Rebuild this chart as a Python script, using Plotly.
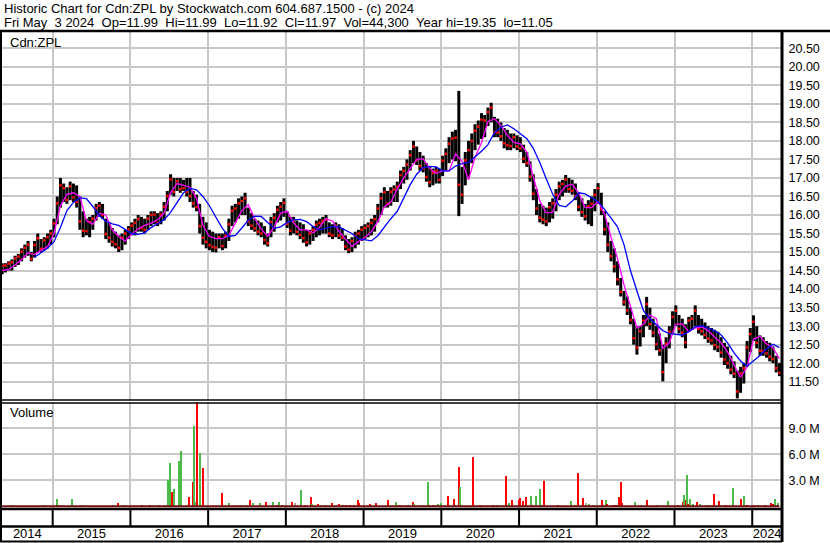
import numpy as np
import plotly.graph_objects as go

# semi-monthly price range (high / low), May 2014 .. May 2024
bar_high = [14.7, 14.7, 14.75, 14.8, 14.9, 14.95, 15.1, 15.2, 15.3, 15.0,
            15.3, 15.5, 15.35, 15.4, 15.5, 15.6, 15.9, 16.5, 17.0, 16.85,
            16.75, 16.9, 16.85, 16.8, 16.5, 16.1, 15.9, 15.95, 16.0, 16.3,
            16.35, 16.3, 15.9, 15.8, 15.65, 15.55, 15.45, 15.5, 15.6, 15.7,
            15.8, 15.9, 16.0, 15.95, 15.9, 16.0, 16.1, 16.1, 16.05, 16.1,
            16.35, 16.65, 17.1, 17.0, 17.0, 17.0, 16.95, 17.0, 17.0, 16.65,
            16.55, 16.3, 15.95, 15.8, 15.6, 15.55, 15.5, 15.5, 15.5, 15.55,
            15.9, 16.25, 16.3, 16.45, 16.5, 16.6, 16.2, 16.05, 15.9, 15.85,
            15.8, 15.7, 15.5, 15.95, 16.05, 16.25, 16.35, 16.45, 16.1, 15.95,
            15.95, 15.85, 15.8, 15.75, 15.6, 15.6, 15.7, 15.85, 15.9, 15.95,
            16.0, 15.8, 15.75, 15.8, 15.75, 15.65, 15.45, 15.35, 15.4, 15.55,
            15.6, 15.7, 15.75, 15.8, 15.9, 16.0, 16.3, 16.6, 16.75, 16.65,
            16.75, 16.8, 16.9, 17.2, 17.3, 17.5, 17.75, 18.0, 17.85, 17.7,
            17.6, 17.4, 17.3, 17.25, 17.3, 17.25, 17.6, 17.8, 18.1, 18.25,
            18.3, 19.35, 17.3, 17.7, 18.0, 18.2, 18.45, 18.55, 18.75, 18.7,
            18.9, 19.03, 18.65, 18.6, 18.5, 18.35, 18.3, 18.2, 18.2, 18.15,
            18.1, 17.9, 17.7, 17.45, 17.1, 16.7, 16.3, 16.25, 16.2, 16.35,
            16.45, 16.7, 16.9, 16.95, 17.08, 17.0, 16.95, 16.85, 16.6, 16.45,
            16.3, 16.4, 16.5, 16.7, 16.86, 16.6, 16.1, 15.8, 15.3, 15.1,
            14.75, 14.3, 13.95, 13.8, 13.5, 13.2, 13.0, 13.0, 13.3, 13.79,
            13.5, 13.2, 13.0, 12.8, 12.5, 12.7, 13.0, 13.4, 13.56, 13.3,
            13.2, 13.05, 13.25, 13.3, 13.56, 13.3, 13.2, 13.1, 13.0, 12.95,
            12.9, 12.85, 12.7, 12.55, 12.45, 12.2, 12.05, 11.8, 11.9, 12.0,
            12.6, 12.95, 13.29, 13.0, 12.75, 12.7, 12.6, 12.55, 12.45, 12.2,
            12.0]
bar_low = [14.4, 14.45, 14.5, 14.5, 14.6, 14.65, 14.75, 14.85, 14.9, 14.75,
           14.85, 15.0, 15.0, 15.05, 15.1, 15.2, 15.4, 15.75, 16.2, 16.35,
           16.3, 16.4, 16.35, 16.2, 15.6, 15.4, 15.45, 15.4, 15.6, 15.85,
           15.95, 15.9, 15.35, 15.25, 15.15, 15.1, 15.0, 15.05, 15.2, 15.35,
           15.45, 15.45, 15.55, 15.55, 15.5, 15.6, 15.7, 15.75, 15.7, 15.75,
           15.85, 16.1, 16.55, 16.5, 16.65, 16.6, 16.65, 16.5, 16.35, 16.2,
           16.1, 15.5, 15.2, 15.1, 15.05, 15.0, 14.99, 15.1, 15.05, 15.1,
           15.3, 15.7, 15.8, 15.9, 16.0, 16.0, 15.7, 15.6, 15.55, 15.45,
           15.4, 15.2, 15.15, 15.4, 15.55, 15.8, 15.85, 15.95, 15.65, 15.45,
           15.5, 15.45, 15.35, 15.25, 15.15, 15.2, 15.3, 15.4, 15.45, 15.5,
           15.5, 15.4, 15.35, 15.4, 15.35, 15.3, 15.05, 14.97, 15.0, 15.1,
           15.2, 15.3, 15.35, 15.4, 15.45, 15.55, 15.8, 16.0, 16.2, 16.2,
           16.25, 16.35, 16.35, 16.7, 16.85, 16.95, 17.2, 17.4, 17.35, 17.2,
           17.15, 16.9, 16.75, 16.8, 16.85, 16.85, 17.05, 17.2, 17.4, 17.5,
           17.45, 15.97, 16.3, 16.8, 17.0, 17.4, 17.75, 17.9, 18.05, 18.1,
           18.4, 18.5, 18.1, 18.1, 18.0, 17.8, 17.75, 17.75, 17.8, 17.75,
           17.7, 17.4, 17.3, 16.9, 16.4, 16.0, 15.8, 15.75, 15.7, 15.8,
           15.9, 16.1, 16.4, 16.5, 16.6, 16.6, 16.55, 16.4, 16.1, 15.95,
           15.85, 15.75, 15.7, 16.1, 16.3, 16.0, 15.45, 15.0, 14.75, 14.45,
           14.1, 13.8, 13.55, 13.3, 13.05, 12.5, 12.23, 12.45, 12.7, 13.0,
           12.9, 12.7, 12.35, 12.2, 11.51, 12.0, 12.4, 12.8, 13.0, 12.8,
           12.7, 12.4, 12.85, 12.9, 13.0, 12.8, 12.75, 12.65, 12.55, 12.5,
           12.35, 12.3, 12.15, 11.95, 11.85, 11.7, 11.6, 11.05, 11.2, 11.45,
           11.9, 12.3, 12.6, 12.4, 12.2, 12.2, 12.15, 12.05, 12.0, 11.75,
           11.65]

# moving averages, read once a month
ma_short = [14.5, 14.53, 14.65, 14.8, 14.98, 14.93, 15.05, 15.15, 15.5, 16.25,
            16.56, 16.6, 16.5, 15.85, 15.75, 16.05, 16.0, 15.6, 15.42, 15.3,
            15.48, 15.63, 15.72, 15.78, 15.87, 16.05, 16.6, 16.85, 16.8, 16.75,
            16.45, 15.72, 15.42, 15.36, 15.36, 15.45, 15.78, 16.12, 16.28, 15.9,
            15.62, 15.43, 15.68, 16.05, 16.1, 15.78, 15.6, 15.6, 15.52, 15.67,
            15.9, 15.84, 15.56, 15.35, 15.15, 15.28, 15.4, 15.55, 15.82, 16.22,
            16.34, 16.7, 17.0, 17.25, 17.5, 17.52, 17.26, 17.12, 17.2, 17.19,
            17.65, 17.45, 16.95, 17.56, 17.95, 18.52, 18.6, 18.42, 18.15, 17.96,
            17.92, 17.7, 17.0, 16.38, 16.06, 16.08, 16.56, 16.78, 16.83, 16.6,
            16.2, 16.2, 16.37, 16.03, 15.4, 14.83, 14.12, 13.55, 12.95, 13.05,
            13.3, 13.2, 12.4, 12.55, 13.05, 13.06, 12.85, 12.95, 12.98, 12.88,
            12.7, 12.55, 12.3, 11.95, 11.62, 11.9, 12.65, 12.72, 12.52, 12.42,
            12.12]
ma_long = [None, None, None, None, None, 14.86, 14.98, 15.1, 15.28, 15.66,
           16.12, 16.34, 16.46, 16.44, 16.23, 15.98, 15.83, 15.76, 15.72, 15.6,
           15.5, 15.48, 15.52, 15.66, 15.77, 15.87, 16.07, 16.32, 16.6, 16.72,
           16.68, 16.5, 16.25, 15.94, 15.64, 15.42, 15.45, 15.65, 15.86, 15.97,
           15.96, 15.8, 15.64, 15.68, 15.8, 15.87, 15.88, 15.82, 15.69, 15.6,
           15.65, 15.69, 15.68, 15.6, 15.5, 15.36, 15.33, 15.3, 15.44, 15.68,
           15.9, 16.1, 16.46, 16.82, 17.1, 17.28, 17.31, 17.3, 17.19, 17.19,
           17.32, 17.39, 17.42, 17.57, 17.72, 17.9, 18.22, 18.37, 18.43, 18.33,
           18.2, 18.06, 17.8, 17.42, 16.98, 16.56, 16.26, 16.22, 16.37, 16.6,
           16.57, 16.47, 16.36, 16.15, 15.92, 15.68, 15.2, 14.5, 13.95, 13.42,
           13.2, 13.03, 12.88, 12.8, 12.77, 12.76, 12.85, 12.98, 13.01, 12.95,
           12.88, 12.76, 12.55, 12.28, 12.06, 11.92, 12.06, 12.21, 12.39, 12.51,
           12.42]

# notable daily volumes (decimal year, millions, colour code)
vol_time = [2014.489, 2014.875, 2015.055, 2015.068, 2015.12, 2015.248, 2015.377, 2015.776, 2015.84, 2015.917,
            2016.149, 2016.252, 2016.368, 2016.445, 2016.484, 2016.509, 2016.535, 2016.561, 2016.625, 2016.651,
            2016.741, 2016.754, 2016.805, 2016.818, 2016.831, 2016.856, 2016.895, 2016.934, 2017.178, 2017.268,
            2017.41, 2017.5, 2017.538, 2017.577, 2017.667, 2017.744, 2017.834, 2017.886, 2017.912, 2017.95,
            2018.079, 2018.117, 2018.194, 2018.246, 2018.323, 2018.336, 2018.413, 2018.452, 2018.503, 2018.593,
            2018.683, 2018.735, 2018.773, 2018.825, 2018.876, 2018.928, 2018.941, 2019.082, 2019.159, 2019.314,
            2019.417, 2019.455, 2019.468, 2019.571, 2019.635, 2019.648, 2019.751, 2019.828, 2019.841, 2019.893,
            2019.957, 2019.995, 2020.085, 2020.162, 2020.175, 2020.227, 2020.24, 2020.407, 2020.497, 2020.664,
            2020.716, 2020.831, 2020.87, 2020.909, 2020.999, 2021.012, 2021.05, 2021.089, 2021.153, 2021.166,
            2021.218, 2021.269, 2021.295, 2021.321, 2021.501, 2021.668, 2021.72, 2021.759, 2021.823, 2021.861,
            2021.9, 2021.951, 2022.067, 2022.119, 2022.132, 2022.209, 2022.235, 2022.261, 2022.286, 2022.312,
            2022.325, 2022.492, 2022.569, 2022.647, 2022.775, 2022.917, 2023.045, 2023.109, 2023.122, 2023.148,
            2023.161, 2023.173, 2023.199, 2023.238, 2023.289, 2023.328, 2023.418, 2023.457, 2023.508, 2023.572,
            2023.585, 2023.662, 2023.753, 2023.856, 2023.894, 2023.933, 2024.023, 2024.075, 2024.165, 2024.242,
            2024.268, 2024.294, 2024.332]
vol_size = [0.1, 0.08, 0.85, 0.2, 0.2, 0.85, 0.1, 0.2, 0.4, 0.1,
            0.15, 0.15, 0.1, 0.1, 3.0, 4.96, 1.6, 1.96, 5.2, 6.4,
            0.15, 1.08, 2.77, 9.27, 0.5, 12.0, 6.2, 4.46, 1.54, 0.35,
            0.1, 0.1, 0.73, 0.38, 0.35, 0.5, 0.5, 0.1, 0.5, 0.15,
            0.5, 0.35, 1.88, 0.15, 1.08, 0.27, 0.27, 0.15, 0.05, 0.38,
            0.27, 0.1, 0.1, 0.1, 0.05, 0.73, 0.38, 0.27, 0.38, 0.73,
            0.5, 0.15, 0.1, 0.15, 0.5, 0.27, 0.15, 2.8, 0.1, 0.1,
            0.27, 0.38, 1.19, 0.85, 0.15, 4.54, 2.23, 5.69, 0.1, 0.1,
            0.05, 3.5, 0.38, 0.73, 0.73, 0.92, 0.6, 1.08, 1.19, 0.15,
            1.19, 2.0, 0.1, 2.9, 0.05, 0.6, 0.15, 3.85, 1.0, 0.35,
            0.27, 0.1, 0.73, 0.73, 0.27, 0.1, 0.1, 0.15, 1.08, 2.77,
            0.35, 0.5, 0.1, 0.73, 0.05, 0.6, 0.15, 0.5, 1.3, 0.73,
            3.6, 0.27, 0.85, 0.27, 0.5, 0.27, 0.1, 0.15, 1.42, 0.6,
            0.15, 0.1, 2.1, 0.85, 1.19, 0.15, 0.1, 0.15, 0.1, 0.38,
            0.27, 0.85, 0.38]
vol_code = ["g", "g", "g", "g", "g", "g", "g", "g", "r", "g",
            "r", "r", "g", "k", "g", "g", "r", "g", "g", "g",
            "r", "r", "r", "g", "g", "r", "g", "r", "r", "g",
            "g", "g", "r", "g", "g", "r", "g", "r", "g", "g",
            "r", "k", "g", "r", "r", "g", "r", "k", "g", "r",
            "r", "r", "r", "r", "r", "r", "r", "r", "r", "r",
            "g", "g", "r", "g", "r", "g", "g", "g", "r", "r",
            "g", "g", "r", "r", "g", "r", "g", "r", "r", "r",
            "g", "r", "g", "r", "r", "r", "r", "r", "g", "r",
            "g", "g", "g", "r", "r", "g", "g", "r", "r", "k",
            "g", "g", "r", "g", "r", "r", "r", "r", "r", "r",
            "r", "g", "g", "r", "g", "g", "r", "r", "g", "r",
            "g", "r", "g", "g", "r", "g", "g", "g", "r", "r",
            "g", "r", "g", "r", "g", "r", "r", "g", "r", "r",
            "r", "g", "g"]

years = list(range(2015, 2025))
year_labels = ["2014", "2015", "2016", "2017", "2018", "2019", "2020", "2021", "2022", "2023", "2024"]
price_ticks = [11.5 + 0.5 * k for k in range(19)]
vol_ticks = [3, 6, 9]

W, H = 830, 543
FONT = "Liberation Sans, Arial, sans-serif"
GRID = "#c8c8c8"
X0, X1 = 2014.348, 2024.383


def px(x):
    return x / W


def py(y):
    return 1 - y / H


bar_time = 2014.35 + np.arange(len(bar_high)) / 24
ma_time = bar_time[::2]
hi = np.array(bar_high)
lo = np.array(bar_low)

# vertical high-low bars
bx, by = [], []
for t, h, l in zip(bar_time, hi, lo):
    bx += [t, t, None]
    by += [l, h, None]

# red ticks: inside the lower half on falling bars, upper half on rising ones
mid = (hi + lo) / 2
falling = np.r_[False, mid[1:] < mid[:-1]]
tick_y = np.where(falling, (mid + lo) / 2, (mid + hi) / 2)

fig = go.Figure()
fig.add_trace(go.Scatter(x=bx, y=by, mode="lines", line=dict(color="black", width=3),
                         hoverinfo="skip", showlegend=False))
fig.add_trace(go.Scatter(x=bar_time, y=tick_y, mode="markers",
                         marker=dict(color="red", size=2.5, symbol="square"),
                         hoverinfo="skip", showlegend=False))
fig.add_trace(go.Scatter(x=ma_time, y=ma_short, mode="lines", line=dict(color="#ff00ff", width=1.3),
                         showlegend=False))
fig.add_trace(go.Scatter(x=ma_time, y=ma_long, mode="lines", line=dict(color="#0000ff", width=1.3),
                         showlegend=False))

cmap = {"g": "#4cbb4c", "r": "#ff0000", "k": "#a8a8a8"}
fig.add_trace(go.Bar(x=vol_time, y=vol_size, width=0.02,
                     marker=dict(color=[cmap[c] for c in vol_code], line=dict(width=0)),
                     xaxis="x2", yaxis="y2", showlegend=False))
# empty trace so the year-label axis gets drawn
fig.add_trace(go.Scatter(x=[], y=[], xaxis="x3", yaxis="y3", showlegend=False))

axis_common = dict(range=[X0, X1], domain=[px(2), px(782)], tickvals=years,
                   showgrid=True, gridcolor=GRID, gridwidth=1.5, showticklabels=False,
                   ticks="", zeroline=False, showline=False, fixedrange=True, automargin=False)

fig.update_layout(
    width=W, height=H, margin=dict(l=0, r=0, t=0, b=0, autoexpand=False),
    paper_bgcolor="white", plot_bgcolor="white", bargap=0,
    font=dict(family=FONT, size=12.5, color="black"),
    xaxis=dict(anchor="y", **axis_common),
    yaxis=dict(domain=[py(400), py(32)], range=[11.006, 20.94], side="right",
               tickvals=price_ticks, ticktext=[f"{v:.2f}" for v in price_ticks],
               showgrid=True, gridcolor=GRID, gridwidth=1.5, zeroline=False, automargin=False,
               ticks="outside", ticklen=3, tickcolor="rgba(0,0,0,0)", fixedrange=True),
    xaxis2=dict(anchor="y2", **axis_common),
    yaxis2=dict(domain=[py(508), py(402)], range=[-0.196, 12.03], side="right", anchor="x2",
                tickvals=vol_ticks, ticktext=[f"{v:.1f} M" for v in vol_ticks],
                showgrid=True, gridcolor=GRID, gridwidth=1.5, zeroline=False, automargin=False,
                ticks="outside", ticklen=3, tickcolor="rgba(0,0,0,0)", fixedrange=True),
    # year labels: an axis whose baseline sits a little above the label row
    xaxis3=dict(anchor="y3", range=[X0, X1], domain=[px(2), px(782)],
                tickvals=[(X0 + 2015) / 2] + [y + 0.5 for y in years[:-1]] + [(2024 + X1) / 2],
                ticktext=year_labels, showgrid=False, ticks="", zeroline=False, showline=False,
                automargin=False, tickfont=dict(size=13), fixedrange=True),
    yaxis3=dict(domain=[py(524), py(514)], range=[0, 1], showticklabels=False, showgrid=False,
                zeroline=False, ticks="", fixedrange=True, automargin=False),
)

# frame lines
frame = [
    (0, 31, W, 31, 2.5), (1, 31, 1, 542, 2), (782, 31, 782, 542, 3),
    (0, 400, 782, 400, 1.5), (0, 403, 782, 403, 1.5),
    (0, 509, 782, 509, 2.5), (0, 526.5, 782, 526.5, 2.5), (0, 541.5, 782, 541.5, 2),
]
for x0, y0, x1, y1, w in frame:
    fig.add_shape(type="line", xref="paper", yref="paper",
                  x0=px(x0), y0=py(y0), x1=px(x1), y1=py(y1),
                  line=dict(color="black", width=w))

# year separators in the row under the volume panel
for yr in years:
    fig.add_shape(type="line", xref="x3", yref="paper", x0=yr, x1=yr, y0=py(526.5), y1=py(509),
                  line=dict(color="black", width=2))

# dense small daily volume along the base
fig.add_shape(type="line", xref="x2", yref="y2", x0=bar_time[0], x1=bar_time[-1], y0=0.02, y1=0.02,
              line=dict(color="#701010", width=2))

header1 = "Historic Chart for Cdn:ZPL by Stockwatch.com 604.687.1500 - (c) 2024"
header2 = ("Fri May\u00a0\u00a03 2024\u00a0\u00a0Op=11.99\u00a0\u00a0Hi=11.99\u00a0\u00a0Lo=11.92"
           "\u00a0\u00a0Cl=11.97\u00a0\u00a0Vol=44,300\u00a0\u00a0Year hi=19.35\u00a0\u00a0lo=11.05")
notes = [(header1, 2, 8.5, 13), (header2, 2, 22.5, 13), ("Cdn:ZPL", 8, 42.5, 13), ("Volume", 8, 413, 13)]
for text, x, y, s in notes:
    fig.add_annotation(text=text, xref="paper", yref="paper", x=px(x), y=py(y),
                       xanchor="left", yanchor="middle", showarrow=False,
                       font=dict(family=FONT, size=s, color="black"))

fig.write_html("out.html", config={"displayModeBar": False},
               post_script="document.body.style.margin='0px';document.body.style.overflow='hidden';")
